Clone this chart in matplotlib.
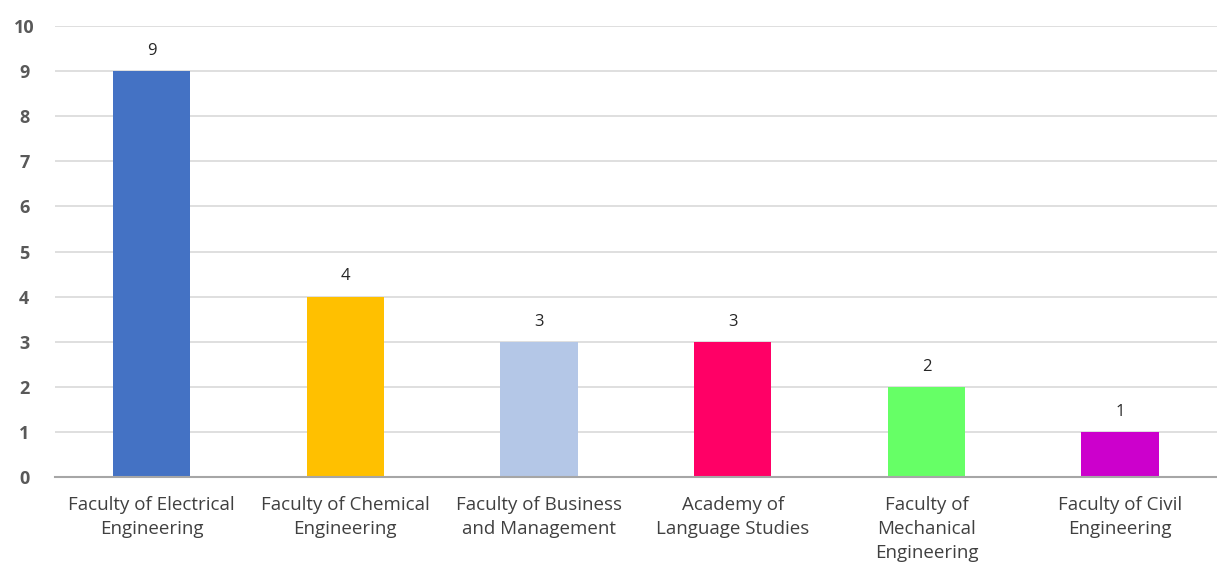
import matplotlib
matplotlib.use("Agg")
import matplotlib.pyplot as plt

categories = ["Faculty of Electrical\nEngineering", "Faculty of Chemical\nEngineering",
              "Faculty of Business\nand Management", "Academy of\nLanguage Studies",
              "Faculty of\nMechanical\nEngineering", "Faculty of Civil\nEngineering"]
values = [9, 4, 3, 3, 2, 1]
colors = ["#4472C4", "#FFC000", "#B4C7E7", "#FF0066", "#66FF66", "#CC00CC"]
yticks = list(range(0, 11))

plt.rcParams['font.family'] = ['Open Sans', 'DejaVu Sans']
fig = plt.figure(figsize=(12.17, 5.63), dpi=100)
ax = fig.add_axes([0.045, 0.1527, 0.955, 0.8011])
x = list(range(len(values)))
bars = ax.bar(x, values, width=0.4, color=colors, zorder=3)
for xi, v in zip(x, values):
    ax.text(xi, v + 0.27, str(v), ha='center', va='bottom', fontsize=12, color='#262626')
ax.set_xlim(-0.5, 5.5)
ax.set_ylim(0, 10)
ax.set_yticks(yticks)
ax.set_yticklabels([str(t) for t in yticks], fontsize=13, fontweight='bold', color='#595959')
ax.set_xticks(x)
ax.set_xticklabels(categories, fontsize=13.5, color='#404040', linespacing=1.4)
ax.tick_params(axis='both', length=0)
ax.tick_params(axis='x', pad=14)
ax.tick_params(axis='y', pad=22)
for lab in ax.get_yticklabels():
    lab.set_horizontalalignment('center')
ax.grid(axis='y', color='#D9D9D9', linewidth=1.2, zorder=0)
for s in ['top', 'right', 'left']:
    ax.spines[s].set_visible(False)
ax.spines['bottom'].set_color('#A6A6A6')
ax.spines['bottom'].set_linewidth(1.5)
ax.spines['bottom'].set_zorder(4)
fig.savefig("out.png", dpi=100)
